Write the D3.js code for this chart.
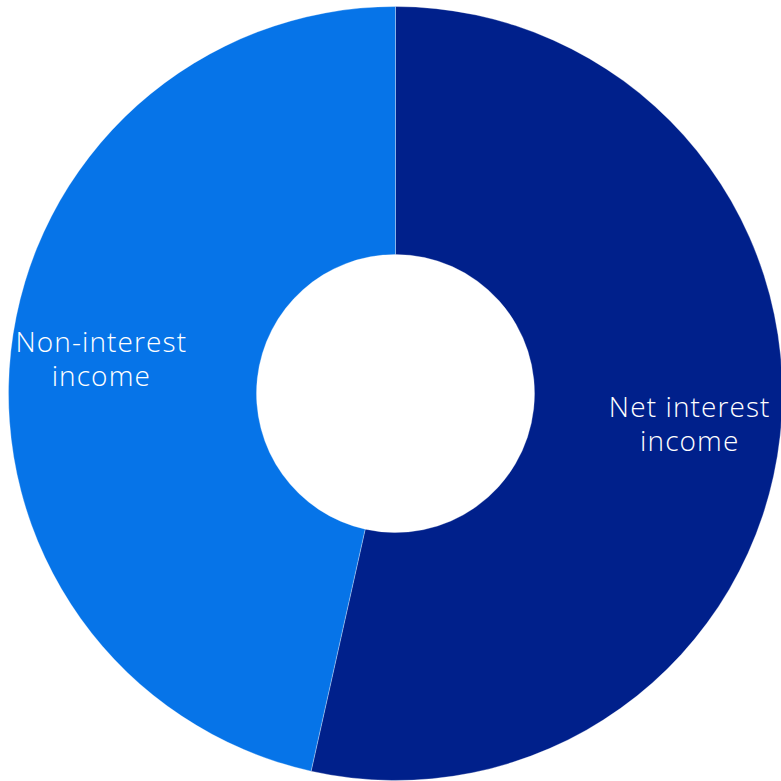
<!DOCTYPE html>
<html>
<head>
<meta charset="utf-8">
<script src="https://cdn.jsdelivr.net/npm/d3@7"></script>
<style>
  html, body { margin: 0; padding: 0; background: #ffffff; }
  svg { display: block; }
</style>
</head>
<body>
<svg id="chart" width="781" height="781"></svg>
<script>
// Income composition, share of total (%)
const categories = ["Net interest income", "Non-interest income"];
const shares = [53.5, 46.5];
const labelLines = [["Net interest", "income"], ["Non-interest", "income"]];
const colors = ["#00208B", "#0674E8"];

const width = 781, height = 781;
const cx = 395.5, cy = 393.5;
const outerR = 387, innerR = 139;
const labelR = 296;

const svg = d3.select("#chart");
const g = svg.append("g").attr("transform", `translate(${cx},${cy})`);

const pie = d3.pie().sort(null).value(d => d.value);
const data = categories.map((c, i) => ({ name: c, value: shares[i], lines: labelLines[i], color: colors[i] }));
const arcs = pie(data);

const arc = d3.arc().innerRadius(innerR).outerRadius(outerR);
const labelArc = d3.arc().innerRadius(labelR).outerRadius(labelR);

g.selectAll("path.slice")
  .data(arcs)
  .join("path")
  .attr("class", "slice")
  .attr("d", arc)
  .attr("fill", d => d.data.color)
  .attr("stroke", "rgba(255,255,255,0.5)")
  .attr("stroke-width", 0.6);

const fontSize = 28;
const lineH = 33.5;
const labels = g.selectAll("text.label")
  .data(arcs)
  .join("text")
  .attr("class", "label")
  .attr("transform", d => `translate(${labelArc.centroid(d)})`)
  .attr("text-anchor", "middle")
  .attr("fill", "#ffffff")
  .style("font-family", "'Open Sans', 'Noto Sans', sans-serif")
  .style("font-weight", 300)
  .style("letter-spacing", "1.1px")
  .style("font-size", fontSize + "px");

labels.selectAll("tspan")
  .data(d => d.data.lines.map((t, i, a) => ({ t, i, n: a.length })))
  .join("tspan")
  .attr("x", 0)
  .attr("y", d => (d.i - (d.n - 1) / 2) * lineH)
  .attr("dy", "0.28em")
  .text(d => d.t);
</script>
</body>
</html>
